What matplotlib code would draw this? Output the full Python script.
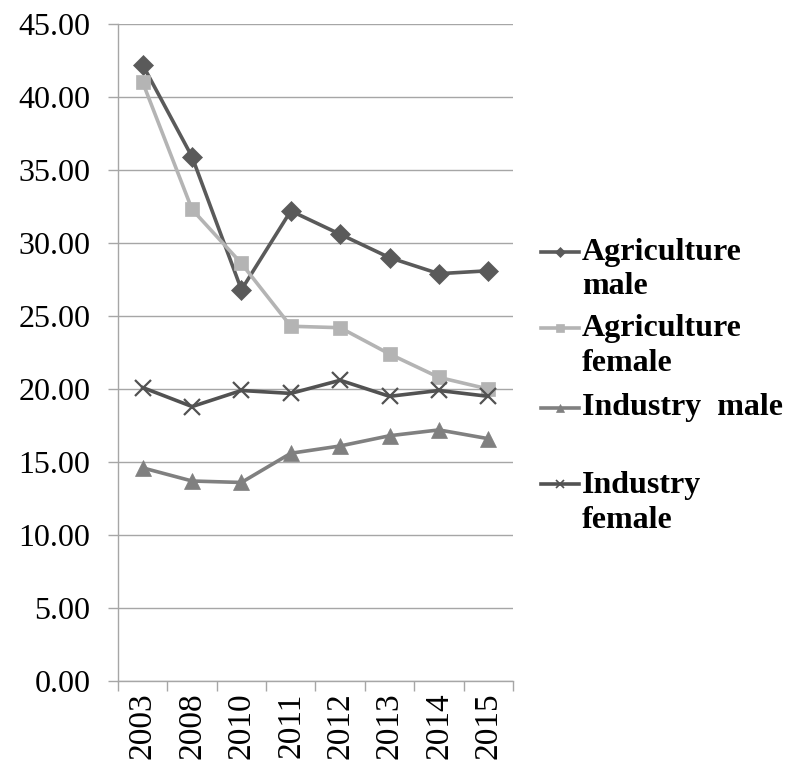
import matplotlib
matplotlib.use("Agg")
import matplotlib.pyplot as plt
from matplotlib.lines import Line2D
from matplotlib.ticker import FormatStrFormatter, FixedLocator
import numpy as np

years = ["2003", "2008", "2010", "2011", "2012", "2013", "2014", "2015"]
agri_male = [42.2, 35.9, 26.8, 32.2, 30.6, 29.0, 27.9, 28.1]
agri_female = [41.0, 32.3, 28.6, 24.3, 24.2, 22.4, 20.8, 20.0]
industry_male = [14.6, 13.7, 13.6, 15.6, 16.1, 16.8, 17.2, 16.6]
industry_female = [20.1, 18.8, 19.9, 19.7, 20.6, 19.5, 19.9, 19.5]

series = [
    ("Agriculture\nmale", agri_male, "#5a5a5a", "D", 10),
    ("Agriculture\nfemale", agri_female, "#b4b4b4", "s", 10),
    ("Industry  male", industry_male, "#808080", "^", 11),
    ("Industry\nfemale", industry_female, "#525252", "x", 11),
]

plt.rcParams["font.family"] = ["Liberation Serif", "DejaVu Serif"]

fig = plt.figure(figsize=(7.89, 7.60), dpi=100)
ax = fig.add_axes([0.1496, 0.1039, 0.5005, 0.8645])

x = np.arange(len(years))
for label, vals, color, marker, ms in series:
    ax.plot(x, vals, color=color, lw=2.6, marker=marker, ms=ms,
            mew=1.6 if marker == "x" else 0.5, mec=color, mfc=color,
            label=label, zorder=3)

ax.set_ylim(0, 45)
ax.set_xlim(-0.5, len(years) - 0.5)
ax.set_yticks(np.arange(0, 46, 5))
ax.yaxis.set_major_formatter(FormatStrFormatter("%.2f"))
ax.grid(axis="y", color="#a6a6a6", lw=1.0, zorder=0)

ax.set_xticks(x)
ax.set_xticklabels(years, rotation=90)
ax.xaxis.set_minor_locator(FixedLocator(np.arange(-0.5, len(years), 1.0)))
ax.tick_params(axis="x", which="major", length=0, pad=8, labelsize=24)
ax.tick_params(axis="x", which="minor", length=7, width=1.0, color="#a6a6a6",
               direction="out")
ax.tick_params(axis="y", length=7, width=1.0, color="#a6a6a6", pad=13,
               labelsize=23)

for s in ("top", "right"):
    ax.spines[s].set_visible(False)
for s in ("left", "bottom"):
    ax.spines[s].set_color("#a6a6a6")
    ax.spines[s].set_linewidth(1.0)

# legend drawn as line samples plus bold labels to the right of the plot
W, H = 789.0, 760.0
entry_y = [269.5, 346.0, 408.0, 503.0]
handle_y = [252.0, 328.0, 408.0, 484.0]
for (label, vals, color, marker, ms), ty, hy in zip(series, entry_y, handle_y):
    fy = 1 - hy / H
    fig.add_artist(Line2D([541 / W, 579 / W], [fy, fy], color=color, lw=2.6,
                          transform=fig.transFigure))
    fig.add_artist(Line2D([560 / W], [fy], color=color, marker=marker,
                          ms=ms * 0.55, mew=1.2 if marker == "x" else 0.5,
                          mec=color, mfc=color, transform=fig.transFigure))
    fig.text(582 / W, 1 - ty / H, label, fontsize=23, fontweight="bold",
             ha="left", va="center", linespacing=1.25)

fig.savefig("out.png", dpi=100)
